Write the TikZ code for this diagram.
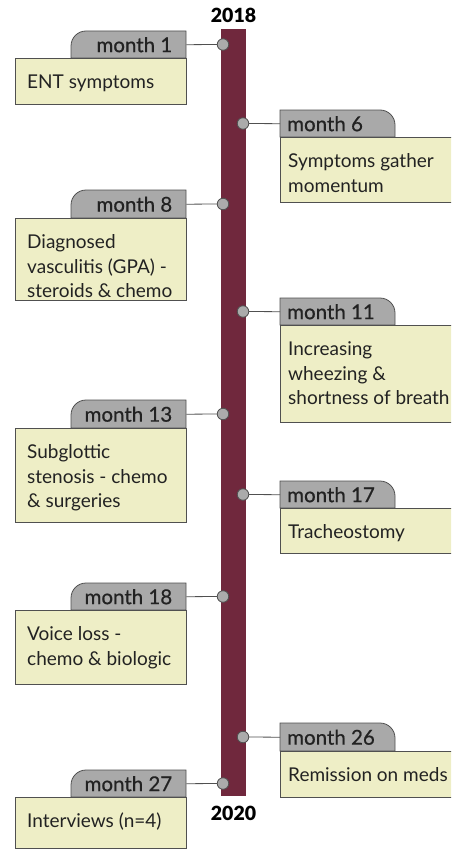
\documentclass[tikz,border=0pt]{standalone}
\usepackage{fontspec}
\setmainfont{Lato}
\newfontfamily\tabfont{Lato}[FakeBold=0.6]
\newfontfamily\yearfont{Lato Black}
\definecolor{barc}{HTML}{70283D}
\definecolor{tabc}{HTML}{A9A9A9}
\definecolor{boxc}{HTML}{EEEEC6}
\definecolor{linec}{HTML}{505050}
\definecolor{dotc}{HTML}{ABABAB}
\definecolor{textc}{HTML}{222222}
\tikzset{
  barshape/.style={fill=barc, draw=none, inner sep=0, anchor=north west},
  tabshape/.style={fill=tabc, draw=linec, line width=0.8pt},
  tabarea/.style={inner sep=0, anchor=north west, minimum width=115},
  boxshape/.style={fill=boxc, draw=linec, line width=0.8pt, inner sep=0, anchor=north west},
  dotshape/.style={circle, fill=dotc, draw=linec, line width=0.8pt, minimum size=11.5pt, inner sep=0},
  conn/.style={draw=linec, line width=0.8pt},
  tablabel/.style={font=\tabfont\fontsize{20.5}{22}\selectfont, text=textc, inner sep=0},
  boxtext/.style={font=\fontsize{19}{24.5}\selectfont, text=textc, align=left, inner sep=0, anchor=north west},
  yearlabel/.style={font=\yearfont\fontsize{19.5}{22}\selectfont, text=black, inner sep=0},
}
\newcommand\LeftEvent[6]{%
  \node[tabarea, minimum height={#3-#2}] (tab#1) at (71,#2) {};
  \path[tabshape] (186,#3) -- (186,#2) -- (86,#2) arc[start angle=270, end angle=180, radius=15] -- (71,#3) -- cycle;
  \node[boxshape, minimum width=171, minimum height={#4-#3}] (box#1) at (15,#3) {};
  \node[dotshape] (dot#1) at (223,{(#2+#3)/2}) {};
  \draw[conn] (tab#1.east) -- (dot#1.west);
  \node[tablabel, anchor=east] (lab#1) at ([xshift=-14pt]tab#1.east) {month #5};
  \node[boxtext] (txt#1) at (27,{#3+12.5}) {\rule{0pt}{18pt}#6};
}
\newcommand\RightEvent[6]{%
  \node[tabarea, minimum height={#3-#2}] (tab#1) at (280,#2) {};
  \path[tabshape] (280,#3) -- (280,#2) -- (380,#2) arc[start angle=270, end angle=360, radius=15] -- (395,#3) -- cycle;
  \node[boxshape, minimum width=200, minimum height={#4-#3}] (box#1) at (280,#3) {};
  \node[dotshape] (dot#1) at (243,{(#2+#3)/2}) {};
  \draw[conn] (dot#1.east) -- (tab#1.west);
  \node[tablabel, anchor=west] (lab#1) at ([xshift=7pt]tab#1.west) {month #5};
  \node[boxtext] (txt#1) at (288,{#3+12.5}) {\rule{0pt}{18pt}#6};
}
\begin{document}
\begin{tikzpicture}[x=1pt,y=-1pt]
  \useasboundingbox (0,0) rectangle (451,851);
  \clip (0,0) rectangle (451,851);
  \node[barshape, minimum width=25, minimum height=767] (bar) at (221,29) {};
  \node[yearlabel] (y2018) at (233.5,15.5) {2018};
  \node[yearlabel] (y2020) at (233.5,813) {2020};
  \LeftEvent{a}{31}{58}{104}{1}{ENT symptoms}
  \RightEvent{b}{110}{137}{202}{6}{Symptoms gather\\momentum}
  \LeftEvent{c}{190}{218}{300}{8}{Diagnosed\\vasculitis (GPA) -\\steroids \& chemo}
  \RightEvent{d}{298}{325}{422}{11}{Increasing\\wheezing \&\\shortness of breath}
  \LeftEvent{e}{400}{428}{522}{13}{Subglottic\\stenosis - chemo\\\& surgeries}
  \RightEvent{f}{481}{508}{553}{17}{Tracheostomy}
  \LeftEvent{g}{583}{610}{684}{18}{Voice loss -\\chemo \& biologic}
  \RightEvent{h}{723}{751}{797}{26}{Remission on meds}
  \LeftEvent{i}{770}{797}{848}{27}{Interviews (n=4)}
\end{tikzpicture}
\end{document}
